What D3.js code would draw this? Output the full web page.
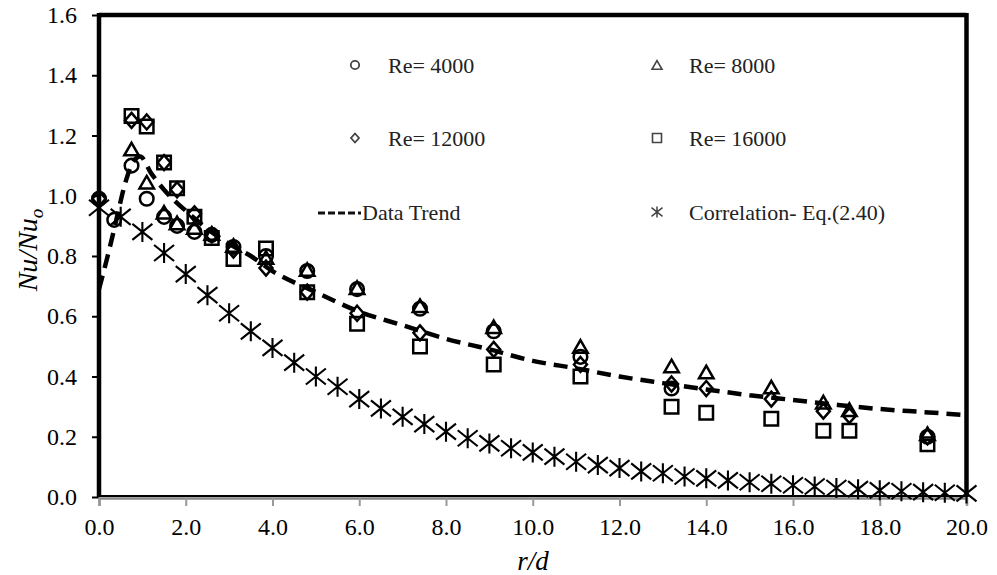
<!DOCTYPE html>
<html>
<head>
<meta charset="utf-8">
<script src="https://cdn.jsdelivr.net/npm/d3@7"></script>
<style>
  html, body { margin: 0; padding: 0; background: #fff; }
  svg { display: block; }
  svg text { font-family: "Liberation Serif", "Times New Roman", "DejaVu Serif", serif !important; }
</style>
</head>
<body>
<svg id="chart" width="997" height="575"></svg>
<script>
// ---- data ----
const xTicks = [0, 2, 4, 6, 8, 10, 12, 14, 16, 18, 20];
const yTicks = [0, 0.2, 0.4, 0.6, 0.8, 1.0, 1.2, 1.4, 1.6];

// Re = 4000 (circles)
const re4000X = [0, 0.35, 0.75, 1.1, 1.5, 1.8, 2.2, 2.6, 3.1, 3.85, 4.8, 5.95, 7.4, 9.1, 11.1, 13.2, 19.1];
const re4000Y = [0.99, 0.92, 1.10, 0.99, 0.93, 0.90, 0.88, 0.87, 0.83, 0.80, 0.75, 0.69, 0.625, 0.55, 0.465, 0.36, 0.20];

// Re = 8000 (triangles)
const re8000X = [0.75, 1.1, 1.5, 1.8, 2.2, 2.6, 3.1, 3.85, 4.8, 5.95, 7.4, 9.1, 11.1, 13.2, 14.0, 15.5, 16.7, 17.3, 19.1];
const re8000Y = [1.15, 1.04, 0.94, 0.905, 0.89, 0.87, 0.83, 0.79, 0.75, 0.69, 0.63, 0.56, 0.495, 0.43, 0.41, 0.36, 0.31, 0.285, 0.205];

// Re = 12000 (diamonds)
const re12000X = [0, 0.75, 1.1, 1.5, 1.8, 2.2, 2.6, 3.1, 3.85, 4.8, 5.95, 7.4, 9.1, 11.1, 13.2, 14.0, 15.5, 16.7, 17.3, 19.1];
const re12000Y = [0.99, 1.25, 1.245, 1.11, 1.02, 0.94, 0.87, 0.82, 0.76, 0.68, 0.61, 0.545, 0.49, 0.44, 0.375, 0.36, 0.325, 0.285, 0.27, 0.20];

// Re = 16000 (squares)
const re16000X = [0.75, 1.1, 1.5, 1.8, 2.2, 2.6, 3.1, 3.85, 4.8, 5.95, 7.4, 9.1, 11.1, 13.2, 14.0, 15.5, 16.7, 17.3, 19.1];
const re16000Y = [1.265, 1.23, 1.11, 1.025, 0.93, 0.86, 0.79, 0.825, 0.68, 0.575, 0.50, 0.44, 0.40, 0.30, 0.28, 0.26, 0.22, 0.22, 0.175];

// Data trend (dashed curve)
const trendX = [0, 0.2, 0.4, 0.6, 0.8, 0.95, 1.2, 1.5, 2.0, 2.5, 3.0, 3.5, 4.0, 5.0, 6.0, 7.0, 8.0, 9.0, 10.0, 11.0, 12.0, 13.0, 14.0, 15.0, 16.0, 17.0, 18.0, 19.0, 20.0];
const trendY = [0.69, 0.80, 0.92, 1.04, 1.115, 1.13, 1.075, 1.02, 0.95, 0.89, 0.84, 0.80, 0.75, 0.68, 0.615, 0.57, 0.525, 0.49, 0.452, 0.427, 0.40, 0.378, 0.357, 0.338, 0.322, 0.306, 0.292, 0.282, 0.272];

// Correlation Eq.(2.40) (asterisks)
const corrX = [0, 0.5, 1, 1.5, 2, 2.5, 3, 3.5, 4, 4.5, 5, 5.5, 6, 6.5, 7, 7.5, 8, 8.5, 9, 9.5, 10,
               10.5, 11, 11.5, 12, 12.5, 13, 13.5, 14, 14.5, 15, 15.5, 16, 16.5, 17, 17.5, 18, 18.5, 19, 19.5, 20];
const corrY = [0.96, 0.93, 0.88, 0.81, 0.74, 0.67, 0.61, 0.55, 0.495, 0.446, 0.40, 0.366, 0.325, 0.294, 0.266, 0.242, 0.217, 0.195, 0.178, 0.162, 0.148,
               0.134, 0.117, 0.106, 0.096, 0.085, 0.079, 0.068, 0.062, 0.055, 0.049, 0.044, 0.039, 0.035, 0.030, 0.026, 0.022, 0.019, 0.016, 0.014, 0.012];

const legendLabels = ["Re= 4000", "Re= 8000", "Re= 12000", "Re= 16000", "Data Trend", "Correlation- Eq.(2.40)"];

// ---- layout ----
const svg = d3.select("#chart");
const x = d3.scaleLinear().domain([0, 20]).range([99, 966.5]);
const y = d3.scaleLinear().domain([0, 1.6]).range([497, 15]);

const zip = (xs, ys) => xs.map((v, i) => [v, ys[i]]);

// plot frame
svg.append("line").attr("x1", 99).attr("x2", 966.5).attr("y1", 15).attr("y2", 15)
  .attr("stroke", "#000").attr("stroke-width", 4.5);
svg.append("line").attr("x1", 99).attr("x2", 99).attr("y1", 13).attr("y2", 497)
  .attr("stroke", "#000").attr("stroke-width", 4.5);
svg.append("line").attr("x1", 966.5).attr("x2", 966.5).attr("y1", 13).attr("y2", 497)
  .attr("stroke", "#000").attr("stroke-width", 4.5);

// y axis ticks and labels
const yAxis = d3.axisLeft(y).tickValues(yTicks).tickFormat(d3.format(".1f")).tickSize(7).tickPadding(15);
const gy = svg.append("g").attr("transform", "translate(99,0)").call(yAxis);
gy.attr("font-family", null);
gy.select(".domain").remove();
gy.selectAll(".tick line").attr("stroke", "#000").attr("stroke-width", 2);
gy.selectAll(".tick text").attr("font-size", 24).attr("fill", "#000");

// x axis ticks and labels
const xAxis = d3.axisBottom(x).tickValues(xTicks).tickFormat(d3.format(".1f")).tickSize(8).tickPadding(12);
const gx = svg.append("g").attr("transform", "translate(0,498)").call(xAxis);
gx.attr("font-family", null);
gx.select(".domain").attr("stroke", "#888").attr("stroke-width", 2.5);
gx.selectAll(".tick line").attr("stroke", "#999").attr("stroke-width", 2);
gx.selectAll(".tick text").attr("font-size", 24).attr("fill", "#000");
// bottom frame edge
svg.append("line").attr("x1", 97).attr("x2", 968).attr("y1", 496).attr("y2", 496)
  .attr("stroke", "#000").attr("stroke-width", 2);

// axis titles
svg.append("text").attr("x", 533).attr("y", 570).attr("text-anchor", "middle")
  .attr("font-size", 27).attr("font-style", "italic").text("r/d");
const yt = svg.append("text").attr("transform", "translate(37,250) rotate(-90)")
  .attr("text-anchor", "middle").attr("font-size", 28).attr("font-style", "italic");
yt.append("tspan").text("Nu/Nu");
yt.append("tspan").attr("font-size", 19).attr("dy", 6).text("o");

// ---- marker shapes ----
function asteriskPath(s) {
  const a = s * 0.5, b = s * 0.4;
  return `M0,${-a}L0,${a}M${-a},${-b}L${a},${b}M${-a},${b}L${a},${-b}`;
}
function trianglePath(s) {
  const h = s * 0.866;
  return `M0,${-h * 0.62}L${s / 2},${h * 0.38}L${-s / 2},${h * 0.38}Z`;
}
function diamondPath(w, h) {
  return `M0,${-h / 2}L${w / 2},0L0,${h / 2}L${-w / 2},0Z`;
}
function squarePath(s) {
  return `M${-s / 2},${-s / 2}h${s}v${s}h${-s}Z`;
}

// correlation asterisks
svg.append("g").selectAll("path").data(zip(corrX, corrY)).join("path")
  .attr("transform", d => `translate(${x(d[0])},${y(d[1])})`)
  .attr("d", asteriskPath(20))
  .attr("fill", "none").attr("stroke", "#000").attr("stroke-width", 2.1);

// data trend
const line = d3.line().x(d => x(d[0])).y(d => y(d[1])).curve(d3.curveMonotoneX);
svg.append("path").datum(zip(trendX, trendY))
  .attr("d", line).attr("fill", "none").attr("stroke", "#000")
  .attr("stroke-width", 4.5).attr("stroke-dasharray", "14,8");

function drawMarkers(xs, ys, pathStr) {
  svg.append("g").selectAll("path").data(zip(xs, ys)).join("path")
    .attr("transform", d => `translate(${x(d[0])},${y(d[1])})`)
    .attr("d", pathStr)
    .attr("fill", "none").attr("stroke", "#000").attr("stroke-width", 2.5);
}
drawMarkers(re16000X, re16000Y, squarePath(13.5));
drawMarkers(re12000X, re12000Y, diamondPath(13, 15));
drawMarkers(re8000X, re8000Y, trianglePath(14.5));
svg.append("g").selectAll("circle").data(zip(re4000X, re4000Y)).join("circle")
  .attr("cx", d => x(d[0])).attr("cy", d => y(d[1])).attr("r", 6.8)
  .attr("fill", "none").attr("stroke", "#000").attr("stroke-width", 2.5);

// ---- legend ----
const lg = svg.append("g");
const legendGrey = "#444";
const rows = [65, 138, 212];
const colMarker = [355, 657];
const colText = [388, 689];

lg.append("circle").attr("cx", colMarker[0]).attr("cy", rows[0]).attr("r", 4.2)
  .attr("fill", "none").attr("stroke", legendGrey).attr("stroke-width", 1.8);
lg.append("path").attr("transform", `translate(${colMarker[1]},${rows[0] + 1})`).attr("d", trianglePath(10))
  .attr("fill", "none").attr("stroke", legendGrey).attr("stroke-width", 1.6);
lg.append("path").attr("transform", `translate(${colMarker[0]},${rows[1]})`).attr("d", diamondPath(8, 9))
  .attr("fill", "none").attr("stroke", legendGrey).attr("stroke-width", 1.8);
lg.append("path").attr("transform", `translate(${colMarker[1]},${rows[1]})`).attr("d", squarePath(9))
  .attr("fill", "none").attr("stroke", legendGrey).attr("stroke-width", 1.6);
lg.append("line").attr("x1", 318).attr("x2", 361).attr("y1", rows[2] + 1).attr("y2", rows[2] + 1)
  .attr("stroke", "#111").attr("stroke-width", 3).attr("stroke-dasharray", "7,3");
lg.append("path").attr("transform", `translate(${colMarker[1]},${rows[2]})`).attr("d", asteriskPath(11))
  .attr("fill", "none").attr("stroke", legendGrey).attr("stroke-width", 1.5);

const textPos = [
  [colText[0], rows[0]], [colText[1], rows[0]],
  [colText[0], rows[1]], [colText[1], rows[1]],
  [362, rows[2]], [colText[1], rows[2]]
];
lg.selectAll("text.lgt").data(legendLabels).join("text").attr("class", "lgt")
  .attr("x", (d, i) => textPos[i][0]).attr("y", (d, i) => textPos[i][1])
  .attr("dy", "0.35em").attr("font-size", 22).attr("fill", "#222").text(d => d);
</script>
</body>
</html>
